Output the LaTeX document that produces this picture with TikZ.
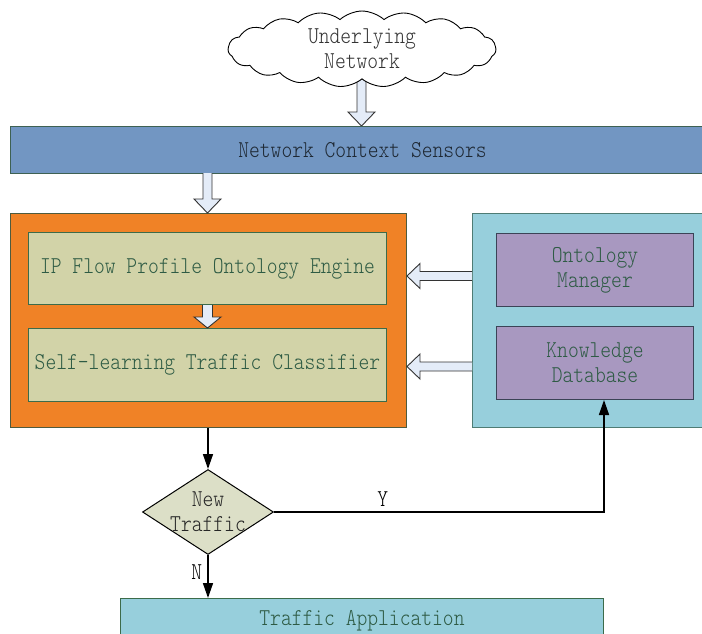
\documentclass[tikz,border=0pt]{standalone}
\usepackage{fontspec}
\newfontfamily\sunlike{lmmonolt10-regular.otf}[FakeStretch=0.85]
\usetikzlibrary{shapes.geometric,shapes.symbols,arrows.meta,calc}

\definecolor{ncsfill}{HTML}{7296C2}
\definecolor{ncsline}{HTML}{3E6152}
\definecolor{ncstext}{HTML}{1E2833}
\definecolor{orangefill}{HTML}{F08226}
\definecolor{orangeline}{HTML}{4E5B3E}
\definecolor{olivefill}{HTML}{D2D3A8}
\definecolor{oliveline}{HTML}{3C6B4A}
\definecolor{tealfill}{HTML}{97CFDC}
\definecolor{tealline}{HTML}{4E7C74}
\definecolor{purplefill}{HTML}{A898C0}
\definecolor{purpleline}{HTML}{3B4356}
\definecolor{decfill}{HTML}{DCDFC7}
\definecolor{blockfill}{HTML}{E4ECF8}
\definecolor{greentext}{HTML}{2E5B44}

\pgfdeclarelayer{back}
\pgfsetlayers{back,main}

% hollow block arrow pointing down: #1 start, #2 tip, #3 shaft half width,
% #4 head half width, #5 head length
\newcommand\blockdown[5]{%
  \path[blockbody] let \p1=(#1), \p2=(#2) in
    (\x1-#3,\y1) -- (\x1-#3,\y2+#5) -- (\x1-#4,\y2+#5) -- (\x1,\y2)
    -- (\x1+#4,\y2+#5) -- (\x1+#3,\y2+#5) -- (\x1+#3,\y1) -- cycle;
  \draw[blockedge] let \p1=(#1), \p2=(#2) in
    (\x1-#3,\y1) -- (\x1-#3,\y2+#5) -- (\x1-#4,\y2+#5) -- (\x1,\y2)
    -- (\x1+#4,\y2+#5) -- (\x1+#3,\y2+#5) -- (\x1+#3,\y1);}
% hollow block arrow pointing left
\newcommand\blockleft[5]{%
  \path[blockbody] let \p1=(#1), \p2=(#2) in
    (\x1,\y1+#3) -- (\x2+#5,\y1+#3) -- (\x2+#5,\y1+#4) -- (\x2,\y1)
    -- (\x2+#5,\y1-#4) -- (\x2+#5,\y1-#3) -- (\x1,\y1-#3) -- cycle;
  \draw[blockedge] let \p1=(#1), \p2=(#2) in
    (\x1,\y1+#3) -- (\x2+#5,\y1+#3) -- (\x2+#5,\y1+#4) -- (\x2,\y1)
    -- (\x2+#5,\y1-#4) -- (\x2+#5,\y1-#3) -- (\x1,\y1-#3);}

\begin{document}
\begin{tikzpicture}[x=1pt,y=-1pt,
  txt/.style={font=\sunlike\fontsize{24.2}{25}\selectfont, align=center},
  box/.style={rectangle, draw, line width=1pt, inner sep=0pt, anchor=north west, txt},
  blockbody/.style={fill=blockfill},
  blockedge/.style={draw=black!80, line width=0.9pt, line join=miter},
  flow/.style={line width=1.5pt, -{Triangle[length=15pt,width=10pt]}},
  decision/.style={diamond, draw=black, line width=1pt, fill=decfill, inner sep=0pt,
    minimum width=131pt, minimum height=85pt, aspect=1.54}]
\useasboundingbox (0,0) rectangle (702,633);
\clip (0,0) rectangle (702,633);

% cloud on top
\node[cloud, cloud puffs=19, cloud puff arc=85, cloud ignores aspect, draw=black,
  line width=0.9pt, fill=white, minimum width=268pt, minimum height=76pt,
  inner sep=0pt, txt, text=black!80] (net) at (362,49) {Underlying\\Network};

% context sensor bar
\node[box, fill=ncsfill, draw=ncsline, text=ncstext, minimum width=704pt,
  minimum height=47pt] (ncs) at (10,126) {Network Context Sensors};

% classification block
\node[box, fill=orangefill, draw=orangeline, minimum width=396pt,
  minimum height=214pt] (engine) at (10,213) {};
\node[box, fill=olivefill, draw=oliveline, text=greentext, minimum width=358pt,
  minimum height=72pt] (onto) at (28,232) {IP Flow Profile Ontology Engine};
\node[box, fill=olivefill, draw=oliveline, text=greentext, minimum width=358pt,
  minimum height=73pt] (clf) at (28,328) {Self-learning Traffic Classifier};

% knowledge block
\node[box, fill=tealfill, draw=tealline, minimum width=240pt,
  minimum height=214pt] (know) at (472,213) {};
\node[box, fill=purplefill, draw=purpleline, text=greentext, minimum width=197pt,
  minimum height=73pt] (om) at (496,233) {Ontology\\Manager};
\node[box, fill=purplefill, draw=purpleline, text=greentext, minimum width=197pt,
  minimum height=73pt] (kdb) at (496,326) {Knowledge\\Database};

% decision and application
\node[decision] (dec) at (208,512) {};
\node[txt, text=black!85, inner sep=0pt] (dectext) at (dec.center) {New\\Traffic};
\node[box, fill=tealfill, draw=oliveline, text=greentext, minimum width=483pt,
  minimum height=44pt] (app) at (120,598) {Traffic Application};

% block arrows
\coordinate (netout) at (361.5,78);
\coordinate (ncsout) at (207.5,173);
\coordinate (upin) at (472,276);
\coordinate (lowin) at (472,366.5);
\begin{pgfonlayer}{back}
  \blockdown{netout}{netout |- ncs.north}{4.5pt}{13.5pt}{14pt}
\end{pgfonlayer}
\blockdown{ncsout}{ncsout |- engine.north}{4.5pt}{13.5pt}{14pt}
\blockdown{onto.south}{clf.north}{5pt}{13.5pt}{11pt}
\blockleft{upin}{engine.east |- upin}{4.5pt}{12.5pt}{13pt}
\blockleft{lowin}{engine.east |- lowin}{4.5pt}{12.5pt}{13pt}

% flow lines
\draw[flow] (engine.south -| dec.north) -- (dec.north);
\draw[flow] (dec.east) -| (kdb.south -| app.north east)
  node[pos=0.165, above=5pt, txt, inner sep=0pt] (ylab) {Y};
\draw[flow] (dec.south) -- (dec.south |- app.north)
  node[pos=0.4, left=5pt, txt, inner sep=0pt] (nlab) {N};
\end{tikzpicture}
\end{document}
